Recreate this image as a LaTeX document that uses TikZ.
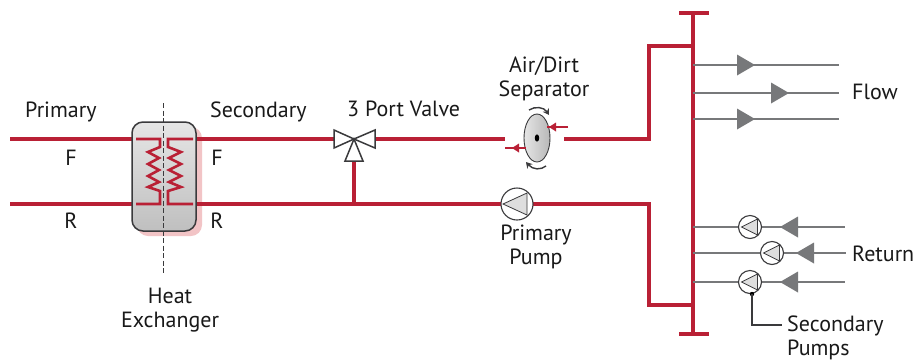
\documentclass[tikz,border=0pt]{standalone}
\usepackage{fontspec}
\setmainfont{PT Sans}
\usetikzlibrary{shapes.geometric,arrows.meta,calc}
\definecolor{pipered}{HTML}{B92035}
\definecolor{pipegray}{HTML}{77787A}
\definecolor{darkline}{HTML}{3A3A3C}
\definecolor{shadowpink}{HTML}{F2C4C6}
\tikzset{
  x=1pt,y=-1pt,
  pipe/.style={draw=pipered,line width=4.3pt},
  thinred/.style={draw=pipered,line width=2.6pt,line join=miter},
  branch/.style={draw=pipegray,line width=2.6pt},
  tip/.style={fill=pipegray,draw=none},
  outline/.style={draw=darkline,line width=1.5pt,line join=miter},
  pumpbody/.style={circle,draw=darkline,line width=1.1pt,fill=white,inner sep=0pt},
  pumptri/.style={draw=darkline,line width=.8pt,fill=black!13,line join=miter},
  label/.style={font=\fontsize{22}{24}\selectfont,text=black!90,align=center,inner sep=0pt},
  spin/.style={draw=darkline,line width=1.4pt,-{Stealth[length=6pt,width=7pt]}}
}
\newcommand{\flowtip}[3]{\fill[tip] (#1,#3-10.5) -- (#2,#3) -- (#1,#3+10.5) -- cycle;}
\newcommand{\rettip}[3]{\fill[tip] (#2,#3-10.5) -- (#1,#3) -- (#2,#3+10.5) -- cycle;}
\newcommand{\smallpump}[3]{%
  \node[pumpbody,minimum size=23pt] (#1) at (#2,#3) {};
  \draw[pumptri] (#2-8.5,#3) -- (#2+7.5,#3-8) -- (#2+7.5,#3+8) -- cycle;}
\begin{document}
\begin{tikzpicture}
\useasboundingbox (0,0) rectangle (919,360);
\fill[white] (0,0) rectangle (919,360);
% coordinates
\coordinate (pfl) at (10,139); \coordinate (prl) at (10,204);
\coordinate (hxfr) at (196,139); \coordinate (hxfl) at (132,139);
\coordinate (hxrr) at (196,204); \coordinate (hxrl) at (132,204);
\coordinate (vc) at (354,139); \coordinate (vr) at (375,139);
\coordinate (vl) at (334,139); \coordinate (vb) at (354,161);
\coordinate (tee) at (354,204);
\coordinate (sepin) at (505,139); \coordinate (sepout) at (564,139);
\coordinate (hdrsup) at (693,46); \coordinate (hdrret) at (693,305);
\coordinate (hdrt) at (693,13); \coordinate (hdrb) at (693,334);
% exchanger
\fill[shadowpink,rounded corners=11pt] (137,127) rectangle (202,236);
\draw[pipe] (pfl) -- (hxfl);
\draw[pipe] (prl) -- (hxrl);
\draw[pipe] (hxfr) -- (vl);
\draw[pipe] (hxrr) -- (tee);
\node[rounded corners=11pt,minimum width=64pt,minimum height=109pt,inner sep=0pt,outline,top color=black!10,bottom color=black!25] (hx) at (164,176.5) {};
\draw[thinred] (136,139) -- (160,139) -- (160,147) -- (148,152) -- (159,158) -- (148,164) -- (159,170) -- (148,176) -- (159,182) -- (148,187) -- (160,191) -- (160,204) -- (136,204);
\draw[thinred] (193,139) -- (168,139) -- (168,147) -- (181,152) -- (169,158) -- (181,164) -- (169,170) -- (181,176) -- (169,182) -- (181,187) -- (168,191) -- (168,204) -- (193,204);
\coordinate (dashtop) at (163,103); \coordinate (dashbot) at (163,275);
\draw[darkline,line width=.9pt,dash pattern=on 5pt off 2.5pt] (dashtop) -- (dashbot);
% valve and pipes
\draw[pipe] (vb) -- (tee);
\draw[pipe] (vr) -- (sepin);
\draw[outline,fill=white] (vc) -- (334,130) -- (334,148) -- cycle;
\draw[outline,fill=white] (vc) -- (375,130) -- (375,148) -- cycle;
\draw[outline,fill=white] (vc) -- (345,161) -- (363,161) -- cycle;
% separator
\node[ellipse,minimum width=26pt,minimum height=48pt,inner sep=0pt,draw=darkline,line width=.9pt,left color=black!10,right color=black!28] (sep) at (537,138) {};
\fill[black] (537,138) ellipse (2.2 and 3.6);
\coordinate (a1s) at (568,127); \coordinate (a1e) at (547,127);
\coordinate (a2s) at (505,148); \coordinate (a2e) at (526,148);
\draw[pipered,line width=1.7pt] (a1s) -- (a1e);
\fill[pipered] (556,122.5) -- (549,127) -- (556,131.5) -- cycle;
\draw[pipered,line width=1.7pt] (a2s) -- (a2e);
\fill[pipered] (519,143.5) -- (512,148) -- (519,152.5) -- cycle;
\draw[spin] (529,110) .. controls (535,106) and (544,107) .. (549,115);
\draw[spin] (546,166) .. controls (541,170) and (533,170) .. (526,162);
% supply / return
\draw[pipe,line join=miter] (sepout) -- (649,139) |- (hdrsup);
\draw[pipe,line join=miter] (tee) -- (649,204) |- (hdrret);
\draw[pipe] (hdrt) -- (hdrb);
\draw[pipe] (679,13) -- (709,13);
\draw[pipe] (679,334) -- (709,334);
% primary pump
\node[pumpbody,minimum size=32pt] (ppump) at (517,204) {};
\draw[pumptri] (503,204) -- (527,193) -- (527,215) -- cycle;
% flow branches
\coordinate (f1) at (839,65); \coordinate (f2) at (839,93); \coordinate (f3) at (839,119);
\draw[branch] (693,65) -- (f1);
\draw[branch] (693,93) -- (f2);
\draw[branch] (693,119) -- (f3);
\flowtip{737}{755}{65}
\flowtip{771}{789}{93}
\flowtip{737}{755}{119}
% return branches
\coordinate (r1) at (845,227); \coordinate (r2) at (846,253); \coordinate (r3) at (845,282);
\draw[branch] (693,227) -- (r1);
\draw[branch] (693,253) -- (r2);
\draw[branch] (693,282) -- (r3);
\rettip{780}{798}{227}
\rettip{796}{814}{253}
\rettip{780}{798}{282}
\smallpump{sp1}{750}{227}
\smallpump{sp2}{772}{253}
\smallpump{sp3}{750}{282}
% leader
\fill[black] (752,294) circle (2.2);
\coordinate (leadend) at (782,325);
\draw[darkline,line width=1.3pt] (752,294) |- (leadend);
% labels
\node[label,anchor=west] (tprim) at (25,112) {Primary};
\node[label,anchor=west] (tsec) at (210,112) {Secondary};
\node[label] (tf1) at (71,158) {F};
\node[label] (tf2) at (217,158) {F};
\node[label] (tr1) at (71,221) {R};
\node[label] (tr2) at (217,221) {R};
\node[label,anchor=west] (tvalve) at (347,109) {3 Port Valve};
\node[label] (tsep) at (544,79) {Air/Dirt\\Separator};
\node[label] (tpump) at (536,246.5) {Primary\\Pump};
\node[label] (thx) at (170,310.5) {Heat\\Exchanger};
\node[label,anchor=west] (tflow) at (852,92) {Flow};
\node[label,anchor=west] (tret) at (852,254) {Return};
\node[label,anchor=west,align=left] (tsp) at (787,337.5) {Secondary\\Pumps};
\end{tikzpicture}
\end{document}
